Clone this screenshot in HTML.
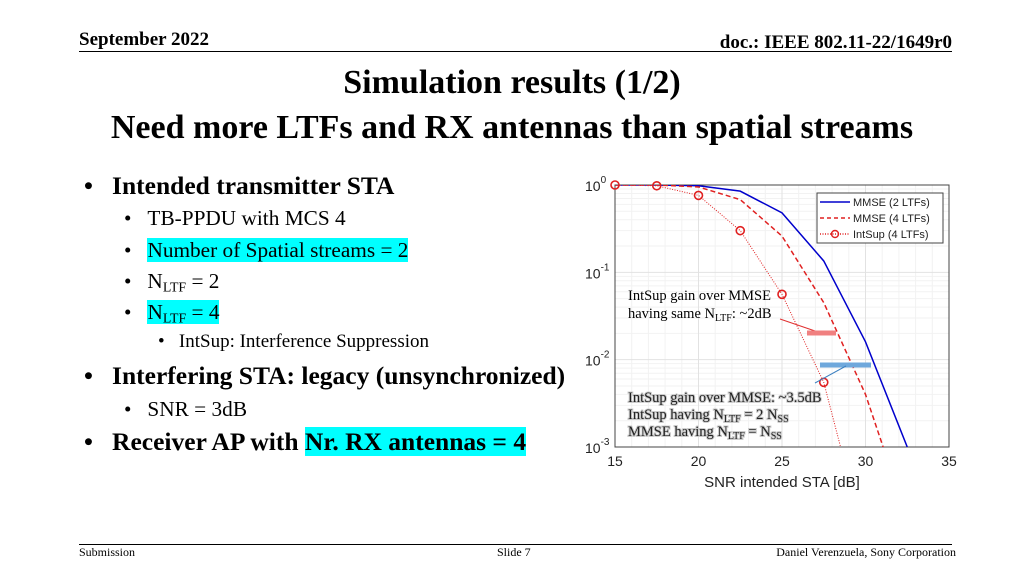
<!DOCTYPE html>
<html><head><meta charset="utf-8"><style>
body{margin:0;width:1024px;height:576px;background:#fff;position:relative;overflow:hidden;font-family:"Liberation Serif",serif;color:#000}
.a{position:absolute;white-space:nowrap}
.m{font-size:25.5px;font-weight:bold}
.s{font-size:21.3px}
.ss{font-size:19px}
.hl{background:#00ffff}
sub{font-size:0.65em;vertical-align:-0.25em;line-height:0}
</style></head><body>
<div class="a" style="left:79px;top:29px;font-size:19px;font-weight:bold">September 2022</div>
<div class="a" style="right:72px;top:32px;font-size:19px;font-weight:bold">doc.: IEEE 802.11-22/1649r0</div>
<div class="a" style="left:79px;top:51px;width:873px;height:1px;background:#000"></div>
<div class="a" style="left:0;width:1024px;top:60px;text-align:center;font-size:34px;font-weight:bold;line-height:45px">Simulation results (1/2)<br>Need more LTFs and RX antennas than spatial streams</div>

<div class="a m" style="left:84px;top:171px">•&nbsp;&nbsp;&nbsp;Intended transmitter STA</div>
<div class="a s" style="left:124px;top:206px">•&nbsp;&nbsp;&nbsp;TB-PPDU with MCS 4</div>
<div class="a s" style="left:124px;top:238px">•&nbsp;&nbsp;&nbsp;<span class="hl">Number of Spatial streams = 2</span></div>
<div class="a s" style="left:124px;top:269px">•&nbsp;&nbsp;&nbsp;N<sub>LTF</sub> = 2</div>
<div class="a s" style="left:124px;top:300px">•&nbsp;&nbsp;&nbsp;<span class="hl">N<sub>LTF</sub> = 4</span></div>
<div class="a ss" style="left:158px;top:331px">•&nbsp;&nbsp;&nbsp;IntSup: Interference Suppression</div>
<div class="a m" style="left:84px;top:361px">•&nbsp;&nbsp;&nbsp;Interfering STA: legacy (unsynchronized)</div>
<div class="a s" style="left:124px;top:397px">•&nbsp;&nbsp;&nbsp;SNR = 3dB</div>
<div class="a m" style="left:84px;top:427px">•&nbsp;&nbsp;&nbsp;Receiver AP with <span class="hl">Nr. RX antennas = 4</span></div>

<svg class="a" style="left:0;top:0" width="1024" height="576" id="chart" font-family="Liberation Sans, sans-serif">
</svg>

<div class="a" style="left:79px;top:544px;width:873px;height:1px;background:#000"></div>
<div class="a" style="left:79px;top:545px;font-size:12px">Submission</div>
<div class="a" style="left:497px;top:545px;font-size:12px">Slide 7</div>
<div class="a" style="right:68px;top:545px;font-size:12px">Daniel Verenzuela, Sony Corporation</div>

<script>
const snr = [15, 17.5, 20, 22.5, 25, 27.5, 30, 32.5];
const mmse2 = [1, 1, 0.98, 0.85, 0.48, 0.135, 0.016, 0.001];
const mmse4 = [1, 1, 0.95, 0.68, 0.26, 0.045, 0.004, 0.00015];
const intsup = [1, 0.98, 0.76, 0.30, 0.056, 0.0055, 0.00008, 0.000001];
const xTicks = [15, 20, 25, 30, 35];
const yTicks = [0, -1, -2, -3];
const L=615,R=949,T=185,B=447;
const NS='http://www.w3.org/2000/svg';
const svg=document.getElementById('chart');
function X(v){return L+(v-15)/20*(R-L);}
function Y(v){return T+(-Math.log10(v))/3*(B-T);}
function el(t,a,p){const e=document.createElementNS(NS,t);for(const k in a)e.setAttribute(k,a[k]);(p||svg).appendChild(e);return e;}
const clip=el('clipPath',{id:'pc'});el('rect',{x:L,y:T,width:R-L,height:B-T},clip);
const bg=el('rect',{x:L,y:T,width:R-L,height:B-T,fill:'#fff',stroke:'none'});


for(let d=0;d<3;d++){for(let m=2;m<=9;m++){const v=Math.pow(10,-d-1)*m;const g=el('line',{x1:L,x2:R,y1:Y(v),y2:Y(v),stroke:'#f2f2f2','stroke-width':1});

}}
for(let x=16;x<35;x++){const g=el('line',{x1:X(x),x2:X(x),y1:T,y2:B,stroke:x%5?'#f2f2f2':'#e2e2e2','stroke-width':1});

}
yTicks.forEach(p=>{const y=Y(Math.pow(10,p));const g=el('line',{x1:L,x2:R,y1:y,y2:y,stroke:'#e2e2e2'});


const t=el('text',{x:L-30,y:y+6,'font-size':14,fill:'#222'});t.textContent='10';


const s=el('tspan',{dy:-8,'font-size':10});s.textContent=String(p);t.appendChild(s);});
xTicks.forEach(v=>{const t=el('text',{x:X(v),y:B+19,'font-size':14,'text-anchor':'middle',fill:'#222'});t.textContent=v;

});
const xt=el('text',{x:(L+R)/2,y:B+40,'font-size':15,'text-anchor':'middle',fill:'#222'});xt.textContent='SNR intended STA [dB]';


const fr=el('rect',{x:L,y:T,width:R-L,height:B-T,fill:'none',stroke:'#444'});


function series(vals,color,dash,name,markers){
 const pts=snr.map((s,i)=>X(s)+','+Y(vals[i])).join(' ');
 const p=el('polyline',{points:pts,fill:'none',stroke:color,'stroke-width':dash==='1,1.5'?1:1.5,'stroke-dasharray':dash||'none','clip-path':'url(#pc)'});
 
 
 if(markers)snr.forEach((s,i)=>{if(vals[i]<0.001)return;const c=el('circle',{cx:X(s),cy:Y(vals[i]),r:4,fill:'none',stroke:color,'stroke-width':1.6});
 
 });
}
series(mmse2,'#0000cc',null,'mmse-2ltf-line');
series(mmse4,'#e02020','5,3','mmse-4ltf-line');
series(intsup,'#e02020','1,1.5','intsup-4ltf-line',true);
const lg=el('rect',{x:817,y:193,width:126,height:50,fill:'#fff',stroke:'#444'});


[['MMSE (2 LTFs)','#0000cc',null],['MMSE (4 LTFs)','#e02020','4,3'],['IntSup (4 LTFs)','#e02020','1,1.5']].forEach((e,i)=>{
 const y=202+i*16;
 const l=el('line',{x1:820,x2:850,y1:y,y2:y,stroke:e[1],'stroke-width':1.5,'stroke-dasharray':e[2]||'none'});
 
 
 if(i==2){el('circle',{cx:835,cy:y,r:3.5,fill:'none',stroke:e[1],'stroke-width':1.4});}
 const t=el('text',{x:853,y:y+4,'font-size':11,fill:'#222'});t.textContent=e[0];
 
 
});
const a1=el('text',{x:628,y:300,'font-size':14.5,'font-family':'Liberation Serif, serif'});a1.innerHTML='IntSup gain over MMSE';


const a2=el('text',{x:628,y:318,'font-size':14.5,'font-family':'Liberation Serif, serif'});a2.innerHTML='having same N<tspan font-size="10" dy="3">LTF</tspan><tspan dy="-3">:  ~2dB</tspan>';


el('line',{x1:780,y1:319,x2:818,y2:332,stroke:'#e03030','stroke-width':1});
const ar1=el('line',{x1:807,y1:333,x2:836,y2:333,stroke:'#f08080','stroke-width':5});


const ar2=el('line',{x1:820,y1:365,x2:871,y2:365,stroke:'#6fa8dc','stroke-width':5});


el('line',{x1:846,y1:366,x2:815,y2:383,stroke:'#3a7fc0','stroke-width':1});
['IntSup gain over MMSE: ~3.5dB','IntSup having N<tspan font-size="10" dy="3">LTF</tspan><tspan dy="-3"> = 2 N</tspan><tspan font-size="10" dy="3">SS</tspan>','MMSE having N<tspan font-size="10" dy="3">LTF</tspan><tspan dy="-3"> = N</tspan><tspan font-size="10" dy="3">SS</tspan>'].forEach((s,i)=>{
 const t=el('text',{x:628,y:402+i*17,'font-size':14.5,'font-family':'Liberation Serif, serif',fill:'#222',style:'paint-order:stroke',stroke:'#ccc','stroke-width':2});t.innerHTML=s;
 
 
});
</script>
</body></html>
